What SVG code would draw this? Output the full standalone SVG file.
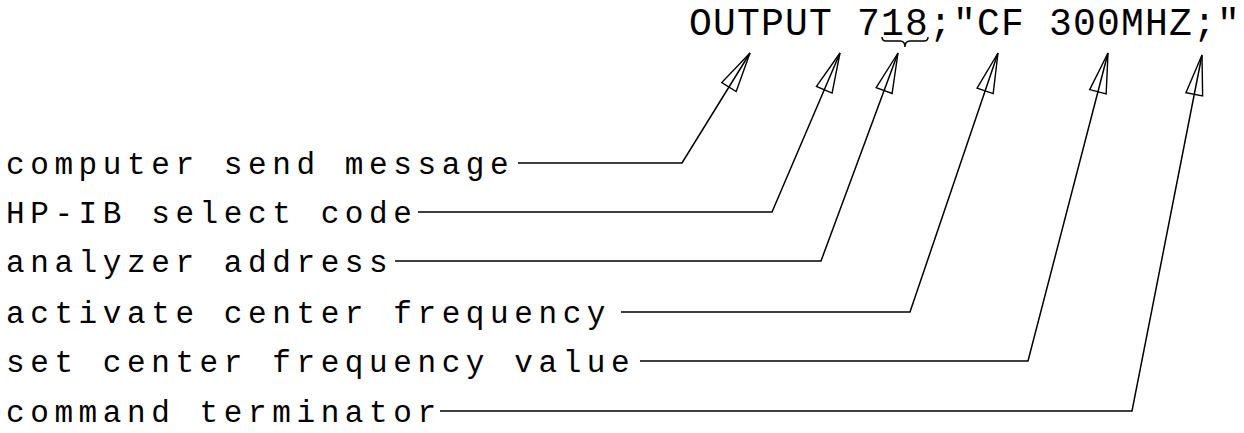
<svg xmlns="http://www.w3.org/2000/svg" width="1244" height="433" viewBox="0 0 1244 433">
  <style>
    .title { font-family: "Liberation Mono", "DejaVu Sans Mono", monospace; font-size: 38px; letter-spacing: 1.2px; fill: #000; }
    .lbl { font-family: "Liberation Mono", "DejaVu Sans Mono", monospace; font-size: 31px; letter-spacing: 5.6px; fill: #000; }
    .conn { fill: none; stroke: #000; stroke-width: 1.5; stroke-linejoin: miter; marker-end: url(#ah); }
    .brace { fill: none; stroke: #000; stroke-width: 1.5; }
  </style>
  <defs>
    <marker id="ah" viewBox="-44 -12 48 24" refX="0" refY="0" markerWidth="48" markerHeight="24" markerUnits="userSpaceOnUse" orient="auto" overflow="visible">
      <path d="M0,0 L-40,-8.5 L-40,8.5 Z" fill="none" stroke="#000" stroke-width="1.4" stroke-linejoin="miter"/>
    </marker>
  </defs>
  <rect width="1244" height="433" fill="#fff"/>

  <g id="command">
    <text class="title" x="689" y="35">OUTPUT 718;"CF 300MHZ;"</text>
    <path class="brace" d="M882,37 Q882,41 886,41 L900,41 Q905,41 905,47 Q905,41 910,41 L924,41 Q928,41 928,37"/>
  </g>

  <g id="label-computer-send-message"><text class="lbl" x="6" y="174">computer send message</text></g>
  <g id="label-hpib-select-code"><text class="lbl" x="6" y="223">HP-IB select code</text></g>
  <g id="label-analyzer-address"><text class="lbl" x="6" y="272">analyzer address</text></g>
  <g id="label-activate-center-frequency"><text class="lbl" x="6" y="323">activate center frequency</text></g>
  <g id="label-set-center-frequency-value"><text class="lbl" x="6" y="372">set center frequency value</text></g>
  <g id="label-command-terminator"><text class="lbl" x="6" y="422">command terminator</text></g>

  <g id="connectors">
    <polyline class="conn" points="518,163 682,163 750,53"/>
    <polyline class="conn" points="418,212 772,212 840,53"/>
    <polyline class="conn" points="395,261 821,261 898,53"/>
    <polyline class="conn" points="621,312 910,312 998,53"/>
    <polyline class="conn" points="640,361 1028,361 1108,53"/>
    <polyline class="conn" points="440,411 1132,411 1202,55"/>
  </g>
</svg>
